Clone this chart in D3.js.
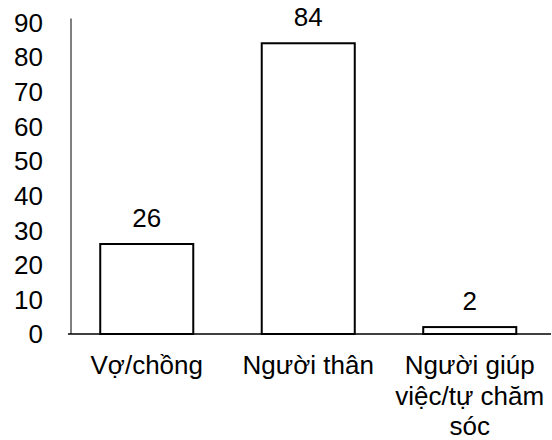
<!DOCTYPE html>
<html>
<head>
<meta charset="utf-8">
<script src="https://cdn.jsdelivr.net/npm/d3@7"></script>
<style>
  html, body { margin: 0; padding: 0; background: #fff; }
  svg text { font-family: "Liberation Sans", Arial, sans-serif; fill: #000; }
</style>
</head>
<body>
<svg id="chart" width="552" height="440"></svg>
<script>
// Categories (each label split into its display lines) and their values
const categories = ["Vợ/chồng", "Người thân", "Người giúp việc/tự chăm sóc"];
const categoryLines = [["Vợ/chồng"], ["Người thân"], ["Người giúp", "việc/tự chăm", "sóc"]];
const values = [26, 84, 2];
const yTicks = [0, 10, 20, 30, 40, 50, 60, 70, 80, 90];

const svg = d3.select("#chart");
const fontSize = 26;

const x = d3.scaleBand()
  .domain(categories)
  .range([66, 550.5])
  .paddingInner(0.424)
  .paddingOuter(0.212);

const y = d3.scaleLinear()
  .domain([0, 90])
  .range([334, 22.5]);

// Vertical value axis
svg.append("line")
  .attr("x1", 71).attr("x2", 71)
  .attr("y1", y(90) - 4).attr("y2", y(0))
  .attr("stroke", "#000").attr("stroke-width", 1);

// Tick labels
svg.append("g").selectAll("text")
  .data(yTicks)
  .join("text")
  .attr("x", 43)
  .attr("y", d => y(d))
  .attr("dy", "0.36em")
  .attr("text-anchor", "end")
  .attr("font-size", fontSize)
  .text(d => d);

// Bars
svg.append("g").selectAll("rect")
  .data(values)
  .join("rect")
  .attr("x", (d, i) => x(categories[i]))
  .attr("y", d => y(d))
  .attr("width", x.bandwidth())
  .attr("height", d => y(0) - y(d))
  .attr("fill", "#fff")
  .attr("stroke", "#000")
  .attr("stroke-width", 2);

// Category baseline
svg.append("line")
  .attr("x1", 68).attr("x2", 551)
  .attr("y1", y(0)).attr("y2", y(0))
  .attr("stroke", "#000").attr("stroke-width", 1.5);

// Value labels above bars
svg.append("g").selectAll("text")
  .data(values)
  .join("text")
  .attr("x", (d, i) => x(categories[i]) + x.bandwidth() / 2)
  .attr("y", d => y(d) - 17)
  .attr("text-anchor", "middle")
  .attr("font-size", fontSize)
  .text(d => d);

// Category labels
const catG = svg.append("g").selectAll("text")
  .data(categoryLines)
  .join("text")
  .attr("x", (d, i) => x(categories[i]) + x.bandwidth() / 2)
  .attr("y", 374)
  .attr("text-anchor", "middle")
  .attr("font-size", fontSize);

catG.selectAll("tspan")
  .data(d => d)
  .join("tspan")
  .attr("x", function () { return d3.select(this.parentNode).attr("x"); })
  .attr("dy", (d, i) => i === 0 ? 0 : 30.5)
  .text(d => d);
</script>
</body>
</html>
